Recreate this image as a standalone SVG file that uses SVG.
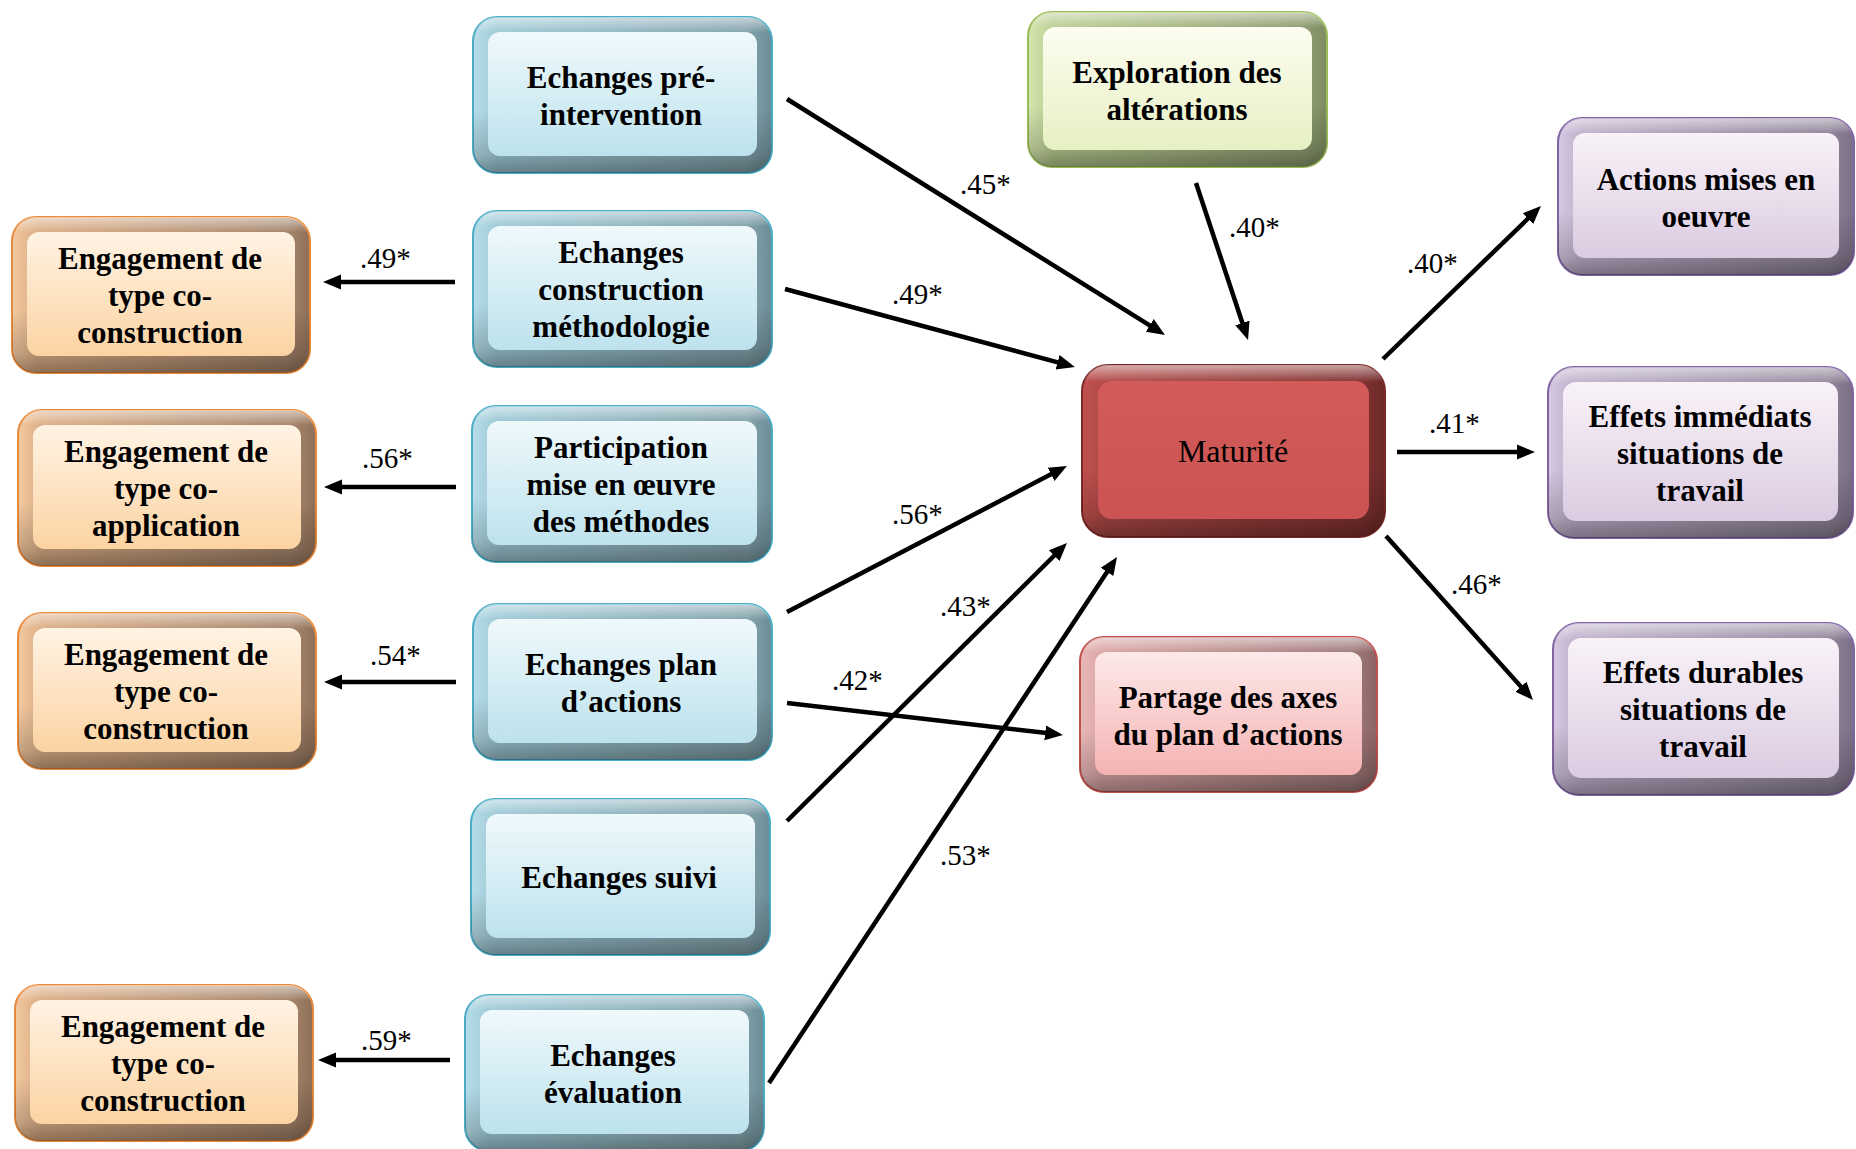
<svg xmlns="http://www.w3.org/2000/svg" width="1856" height="1149" viewBox="0 0 1856 1149">
<style>
.t{font-family:"Liberation Serif","Times New Roman",serif;font-weight:bold;font-size:31px;fill:#000;text-anchor:middle}
.m{font-family:"Liberation Serif","Times New Roman",serif;font-size:32px;fill:#000;text-anchor:middle}
.l{font-family:"Liberation Serif","Times New Roman",serif;font-size:29px;fill:#000}
.c{stroke:#000;stroke-width:4.5;fill:none;marker-end:url(#ah)}
.sh{fill:url(#vs)}
</style>
<defs>
<marker id="ah" markerUnits="userSpaceOnUse" markerWidth="20" markerHeight="18" viewBox="0 0 20 18" refX="8" refY="9" orient="auto"><path d="M0,1.5 L18,9 L0,16.5 z" fill="#000"/></marker>
<linearGradient id="vs" x1="0" y1="0" x2="0" y2="1">
<stop offset="0" stop-color="#fff" stop-opacity="0.55"/>
<stop offset="0.1" stop-color="#fff" stop-opacity="0"/>
<stop offset="0.6" stop-color="#000" stop-opacity="0"/>
<stop offset="0.88" stop-color="#000" stop-opacity="0.18"/>
<stop offset="1" stop-color="#000" stop-opacity="0.36"/>
</linearGradient>
<linearGradient id="sBlue" x1="0" y1="0" x2="1" y2="0"><stop offset="0" stop-color="#b7dde8"/><stop offset="0.08" stop-color="#9fcad7"/><stop offset="0.92" stop-color="#84a3ac"/><stop offset="1" stop-color="#6c8c96"/></linearGradient>
<linearGradient id="iBlue" x1="0" y1="0" x2="0" y2="1"><stop offset="0" stop-color="#eff9fc"/><stop offset="1" stop-color="#bde2ed"/></linearGradient>
<linearGradient id="sOr" x1="0" y1="0" x2="1" y2="0"><stop offset="0" stop-color="#f2c9a0"/><stop offset="0.08" stop-color="#dcae86"/><stop offset="0.92" stop-color="#a5856c"/><stop offset="1" stop-color="#8f6f57"/></linearGradient>
<linearGradient id="iOr" x1="0" y1="0" x2="0" y2="1"><stop offset="0" stop-color="#fff3e4"/><stop offset="1" stop-color="#fcd3a2"/></linearGradient>
<linearGradient id="sGr" x1="0" y1="0" x2="1" y2="0"><stop offset="0" stop-color="#d6e6b0"/><stop offset="0.08" stop-color="#bccf92"/><stop offset="0.92" stop-color="#909f74"/><stop offset="1" stop-color="#7d8d60"/></linearGradient>
<linearGradient id="iGr" x1="0" y1="0" x2="0" y2="1"><stop offset="0" stop-color="#fdfdf1"/><stop offset="1" stop-color="#e7f0c3"/></linearGradient>
<linearGradient id="sRed" x1="0" y1="0" x2="1" y2="0"><stop offset="0" stop-color="#c0504d"/><stop offset="0.08" stop-color="#b04a48"/><stop offset="0.92" stop-color="#823231"/><stop offset="1" stop-color="#6a2928"/></linearGradient>
<linearGradient id="iRed" x1="0" y1="0" x2="0" y2="1"><stop offset="0" stop-color="#d35b59"/><stop offset="1" stop-color="#cb5452"/></linearGradient>
<linearGradient id="sPk" x1="0" y1="0" x2="1" y2="0"><stop offset="0" stop-color="#e8b8b7"/><stop offset="0.08" stop-color="#d9a5a4"/><stop offset="0.92" stop-color="#a07a7a"/><stop offset="1" stop-color="#8c6464"/></linearGradient>
<linearGradient id="iPk" x1="0" y1="0" x2="0" y2="1"><stop offset="0" stop-color="#fde9e9"/><stop offset="1" stop-color="#f5b3b3"/></linearGradient>
<linearGradient id="sPu" x1="0" y1="0" x2="1" y2="0"><stop offset="0" stop-color="#d5c8e0"/><stop offset="0.08" stop-color="#c0b1cc"/><stop offset="0.92" stop-color="#918599"/><stop offset="1" stop-color="#7b6e86"/></linearGradient>
<linearGradient id="iPu" x1="0" y1="0" x2="0" y2="1"><stop offset="0" stop-color="#f9f2f8"/><stop offset="1" stop-color="#dbcbe1"/></linearGradient>
</defs>
<rect width="1856" height="1149" fill="#fff"/>

<g id="n_pre"><rect x="473" y="17" width="299" height="156" rx="24" fill="url(#sBlue)" stroke="#4bacc6" stroke-width="2"/><rect x="473" y="17" width="299" height="156" rx="24" class="sh"/><rect x="488" y="32" width="269" height="124" rx="12" fill="url(#iBlue)"/><text class="t" x="621" y="88">Echanges pré-</text><text class="t" x="621" y="125">intervention</text></g>

<g id="n_constr"><rect x="473" y="211" width="299" height="156" rx="24" fill="url(#sBlue)" stroke="#4bacc6" stroke-width="2"/><rect x="473" y="211" width="299" height="156" rx="24" class="sh"/><rect x="488" y="226" width="269" height="124" rx="12" fill="url(#iBlue)"/><text class="t" x="621" y="263">Echanges</text><text class="t" x="621" y="300">construction</text><text class="t" x="621" y="337">méthodologie</text></g>

<g id="n_particip"><rect x="472" y="406" width="300" height="156" rx="24" fill="url(#sBlue)" stroke="#4bacc6" stroke-width="2"/><rect x="472" y="406" width="300" height="156" rx="24" class="sh"/><rect x="487" y="421" width="270" height="124" rx="12" fill="url(#iBlue)"/><text class="t" x="621" y="458">Participation</text><text class="t" x="621" y="495">mise en œuvre</text><text class="t" x="621" y="532">des méthodes</text></g>

<g id="n_plan"><rect x="473" y="604" width="299" height="156" rx="24" fill="url(#sBlue)" stroke="#4bacc6" stroke-width="2"/><rect x="473" y="604" width="299" height="156" rx="24" class="sh"/><rect x="488" y="619" width="269" height="124" rx="12" fill="url(#iBlue)"/><text class="t" x="621" y="675">Echanges plan</text><text class="t" x="621" y="712">d’actions</text></g>

<g id="n_suivi"><rect x="471" y="799" width="299" height="156" rx="24" fill="url(#sBlue)" stroke="#4bacc6" stroke-width="2"/><rect x="471" y="799" width="299" height="156" rx="24" class="sh"/><rect x="486" y="814" width="269" height="124" rx="12" fill="url(#iBlue)"/><text class="t" x="619" y="888">Echanges suivi</text></g>

<g id="n_eval"><rect x="465" y="995" width="299" height="156" rx="24" fill="url(#sBlue)" stroke="#4bacc6" stroke-width="2"/><rect x="465" y="995" width="299" height="156" rx="24" class="sh"/><rect x="480" y="1010" width="269" height="124" rx="12" fill="url(#iBlue)"/><text class="t" x="613" y="1066">Echanges</text><text class="t" x="613" y="1103">évaluation</text></g>

<g id="e_1"><rect x="12" y="217" width="298" height="156" rx="24" fill="url(#sOr)" stroke="#e88a3c" stroke-width="2"/><rect x="12" y="217" width="298" height="156" rx="24" class="sh"/><rect x="27" y="232" width="268" height="124" rx="12" fill="url(#iOr)"/><text class="t" x="160" y="269">Engagement de</text><text class="t" x="160" y="306">type co-</text><text class="t" x="160" y="343">construction</text></g>

<g id="e_2"><rect x="18" y="410" width="298" height="156" rx="24" fill="url(#sOr)" stroke="#e88a3c" stroke-width="2"/><rect x="18" y="410" width="298" height="156" rx="24" class="sh"/><rect x="33" y="425" width="268" height="124" rx="12" fill="url(#iOr)"/><text class="t" x="166" y="462">Engagement de</text><text class="t" x="166" y="499">type co-</text><text class="t" x="166" y="536">application</text></g>

<g id="e_3"><rect x="18" y="613" width="298" height="156" rx="24" fill="url(#sOr)" stroke="#e88a3c" stroke-width="2"/><rect x="18" y="613" width="298" height="156" rx="24" class="sh"/><rect x="33" y="628" width="268" height="124" rx="12" fill="url(#iOr)"/><text class="t" x="166" y="665">Engagement de</text><text class="t" x="166" y="702">type co-</text><text class="t" x="166" y="739">construction</text></g>

<g id="e_4"><rect x="15" y="985" width="298" height="156" rx="24" fill="url(#sOr)" stroke="#e88a3c" stroke-width="2"/><rect x="15" y="985" width="298" height="156" rx="24" class="sh"/><rect x="30" y="1000" width="268" height="124" rx="12" fill="url(#iOr)"/><text class="t" x="163" y="1037">Engagement de</text><text class="t" x="163" y="1074">type co-</text><text class="t" x="163" y="1111">construction</text></g>

<g id="n_explor"><rect x="1028" y="12" width="299" height="155" rx="24" fill="url(#sGr)" stroke="#9bbb59" stroke-width="2"/><rect x="1028" y="12" width="299" height="155" rx="24" class="sh"/><rect x="1043" y="27" width="269" height="123" rx="12" fill="url(#iGr)"/><text class="t" x="1177" y="83">Exploration des</text><text class="t" x="1177" y="120">altérations</text></g>

<g id="n_matur"><rect x="1082" y="365" width="303" height="172" rx="26" fill="url(#sRed)" stroke="#7a2a28" stroke-width="2"/><rect x="1082" y="365" width="303" height="172" rx="26" class="sh"/><rect x="1098" y="381" width="271" height="138" rx="14" fill="url(#iRed)"/><text class="m" x="1233" y="462">Maturité</text></g>

<g id="n_partage"><rect x="1080" y="637" width="297" height="155" rx="24" fill="url(#sPk)" stroke="#c0504d" stroke-width="2"/><rect x="1080" y="637" width="297" height="155" rx="24" class="sh"/><rect x="1095" y="652" width="267" height="123" rx="12" fill="url(#iPk)"/><text class="t" x="1228" y="708">Partage des axes</text><text class="t" x="1228" y="745">du plan d’actions</text></g>

<g id="n_actions"><rect x="1558" y="118" width="296" height="157" rx="24" fill="url(#sPu)" stroke="#8064a2" stroke-width="2"/><rect x="1558" y="118" width="296" height="157" rx="24" class="sh"/><rect x="1573" y="133" width="266" height="125" rx="12" fill="url(#iPu)"/><text class="t" x="1706" y="190">Actions mises en</text><text class="t" x="1706" y="227">oeuvre</text></g>

<g id="n_imm"><rect x="1548" y="367" width="305" height="171" rx="26" fill="url(#sPu)" stroke="#8064a2" stroke-width="2"/><rect x="1548" y="367" width="305" height="171" rx="26" class="sh"/><rect x="1563" y="382" width="275" height="139" rx="13" fill="url(#iPu)"/><text class="t" x="1700" y="427">Effets immédiats</text><text class="t" x="1700" y="464">situations de</text><text class="t" x="1700" y="501">travail</text></g>

<g id="n_dur"><rect x="1553" y="623" width="301" height="172" rx="26" fill="url(#sPu)" stroke="#8064a2" stroke-width="2"/><rect x="1553" y="623" width="301" height="172" rx="26" class="sh"/><rect x="1568" y="638" width="271" height="140" rx="13" fill="url(#iPu)"/><text class="t" x="1703" y="683">Effets durables</text><text class="t" x="1703" y="720">situations de</text><text class="t" x="1703" y="757">travail</text></g>

<g id="connectors">
<line class="c" x1="787" y1="99" x2="1156.5" y2="329.7"/>
<line class="c" x1="785" y1="289" x2="1065.3" y2="364.4"/>
<line class="c" x1="787" y1="612" x2="1058.1" y2="470.6"/>
<line class="c" x1="787" y1="821" x2="1059.9" y2="550"/>
<line class="c" x1="769" y1="1083" x2="1111.5" y2="565.3"/>
<line class="c" x1="787" y1="703" x2="1053.1" y2="733.8"/>
<line class="c" x1="1196" y1="183" x2="1244.9" y2="330.5"/>
<line class="c" x1="1383" y1="359" x2="1533.8" y2="213"/>
<line class="c" x1="1397" y1="452" x2="1525" y2="452"/>
<line class="c" x1="1386" y1="536" x2="1526.3" y2="692.6"/>
<line class="c" x1="455" y1="282" x2="333" y2="282"/>
<line class="c" x1="456" y1="487" x2="334" y2="487"/>
<line class="c" x1="456" y1="682" x2="334" y2="682"/>
<line class="c" x1="450" y1="1060" x2="328" y2="1060"/>
<text class="l" x="960" y="194">.45*</text>
<text class="l" x="892" y="304">.49*</text>
<text class="l" x="892" y="524">.56*</text>
<text class="l" x="940" y="616">.43*</text>
<text class="l" x="832" y="690">.42*</text>
<text class="l" x="940" y="865">.53*</text>
<text class="l" x="1229" y="237">.40*</text>
<text class="l" x="1407" y="273">.40*</text>
<text class="l" x="1429" y="433">.41*</text>
<text class="l" x="1451" y="594">.46*</text>
<text class="l" x="360" y="268">.49*</text>
<text class="l" x="362" y="468">.56*</text>
<text class="l" x="370" y="665">.54*</text>
<text class="l" x="361" y="1050">.59*</text>
</g>
</svg>
